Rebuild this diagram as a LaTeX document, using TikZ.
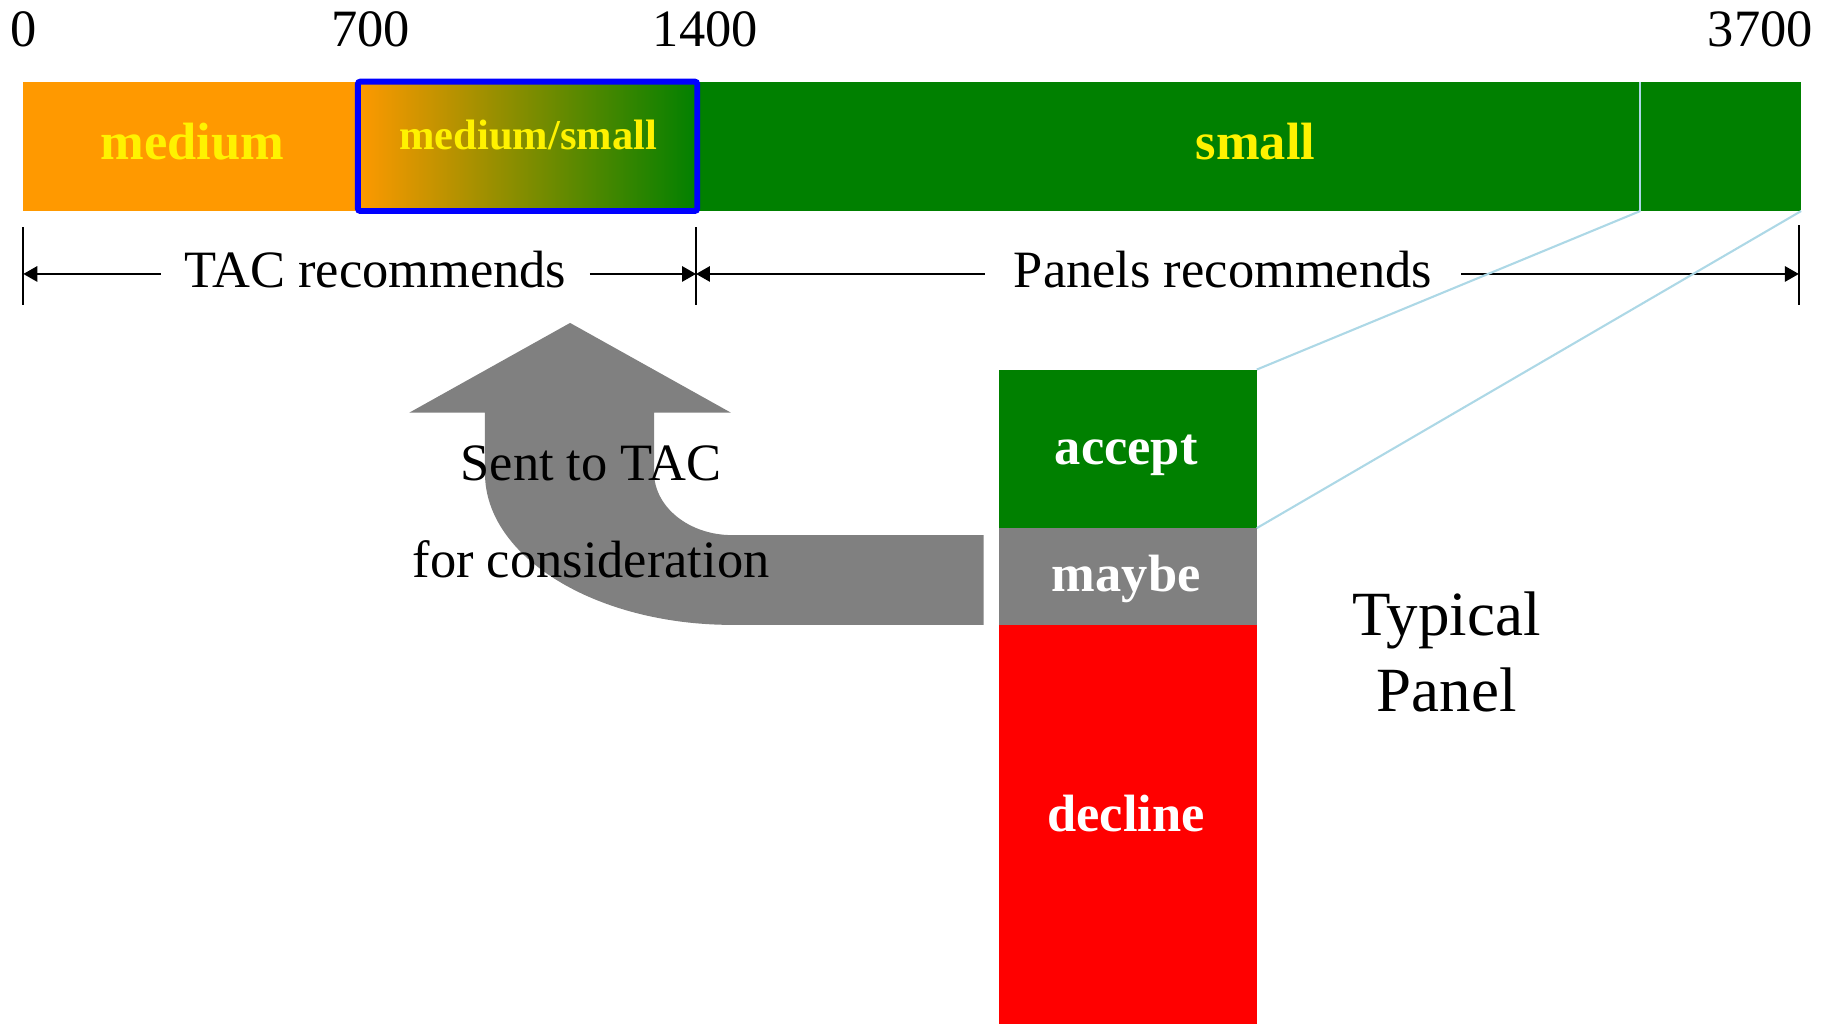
\documentclass[tikz,border=0pt]{standalone}
\usepackage{fontspec}
\setmainfont{Liberation Serif}
\usetikzlibrary{arrows.meta}
\definecolor{barorange}{RGB}{255,153,0}
\definecolor{bargreen}{RGB}{0,128,0}
\definecolor{linkblue}{RGB}{173,216,230}
\definecolor{arrowgray}{RGB}{128,128,128}

\begin{document}
\begin{tikzpicture}[x=1pt,y=-1pt,
  band/.style={rectangle, inner sep=0pt, outer sep=0pt, anchor=north west},
  scalenum/.style={font=\fontsize{45}{50}\selectfont, anchor=base, inner sep=0pt},
  barlabel/.style={text=yellow, font=\bfseries\fontsize{45}{50}\selectfont, anchor=base, inner sep=0pt},
  vote/.style={text=white, font=\bfseries\fontsize{45}{50}\selectfont, anchor=base, inner sep=0pt},
  plain/.style={font=\fontsize{45}{50}\selectfont, anchor=base, inner ysep=0pt},
  bigtext/.style={font=\fontsize{54}{60}\selectfont, anchor=base, inner sep=0pt},
  dimline/.style={line width=2.2pt, -{Triangle[length=12pt,width=13pt]}},
  dimtick/.style={line width=1.7pt},
  link/.style={draw=linkblue, line width=1.8pt}
]
\useasboundingbox (0,0) rectangle (1568,878);

% ---- size scale bar ----
\node[band, fill=barorange, minimum width=287pt, minimum height=111pt] (med) at (20,70) {};
\node[band, left color=barorange, right color=bargreen, minimum width=291pt, minimum height=111pt] (mix) at (307,70) {};
\node[band, fill=bargreen, minimum width=810pt, minimum height=111pt] (sml) at (598,70) {};
\node[band, fill=bargreen, minimum width=138pt, minimum height=111pt] (seg) at (1407,70) {};
\draw[link, line width=1.5pt] (seg.north west) -- (seg.south west);
\draw[blue, line width=5pt, rounded corners=2pt] (mix.north west) rectangle (mix.south east);

\node[barlabel] (tmed) at (165,137) {medium};
\node[barlabel, font=\bfseries\fontsize{36.5}{40}\selectfont] (tmix) at (453,128) {medium/small};
\node[barlabel] (tsml) at (1077,137) {small};

% ---- scale numbers ----
\node[scalenum] (n0) at (20,40) {0};
\node[scalenum] (n700) at (318,40) {700};
\node[scalenum] (n1400) at (605,40) {1400};
\node[scalenum] (n3700) at (1510,40) {3700};

% ---- dimension lines ----
\coordinate (dL) at (20,235);
\coordinate (dM) at (597,235);
\coordinate (dR) at (1543,235);
\draw[dimtick] (dL) ++(0,-40) -- ++(0,67);
\draw[dimtick] (dM) ++(0,-40) -- ++(0,67);
\draw[dimtick] (dR) ++(0,-42) -- ++(0,69);

\node[plain, inner xsep=20pt] (tac) at (322,247) {TAC recommends};
\node[plain, inner xsep=25pt] (pan) at (1049,247) {Panels recommends};
\draw[dimline] (tac.west |- dL) -- (dL);
\draw[dimline] (tac.east |- dL) -- (dM);
\draw[dimline] (pan.west |- dL) -- (dM);
\draw[dimline] (pan.east |- dL) -- (dR);

% ---- bent arrow back to TAC ----
\fill[arrowgray] (843.7,459) -- (628,459)
  .. controls (591,459) and (561,434.8) .. (561,405)
  -- (561,354) -- (627,354) -- (489,277) -- (351,354) -- (416,354) -- (416,406)
  .. controls (416,477.8) and (511,536) .. (628,536)
  -- (843.7,536) -- cycle;
\node[plain, inner sep=0pt] (sent1) at (507,412) {Sent to TAC};
\node[plain, inner sep=0pt] (sent2) at (507,495) {for consideration};

% ---- typical panel ----
\node[band, fill=bargreen, minimum width=221pt, minimum height=136pt] (acc) at (857,317) {};
\node[band, fill=arrowgray, minimum width=221pt, minimum height=83pt] (may) at (857,453) {};
\node[band, fill=red, minimum width=221pt, minimum height=342pt] (dec) at (857,536) {};
\node[vote] (tacc) at (966,398) {accept};
\node[vote] (tmay) at (966,507) {maybe};
\node[vote] (tdec) at (966,713) {decline};

\draw[link] (seg.south west) -- (acc.north east);
\draw[link] (seg.south east) -- (may.north east);

\node[bigtext] (typ1) at (1241,545) {Typical};
\node[bigtext] (typ2) at (1241,610) {Panel};
\end{tikzpicture}
\end{document}
